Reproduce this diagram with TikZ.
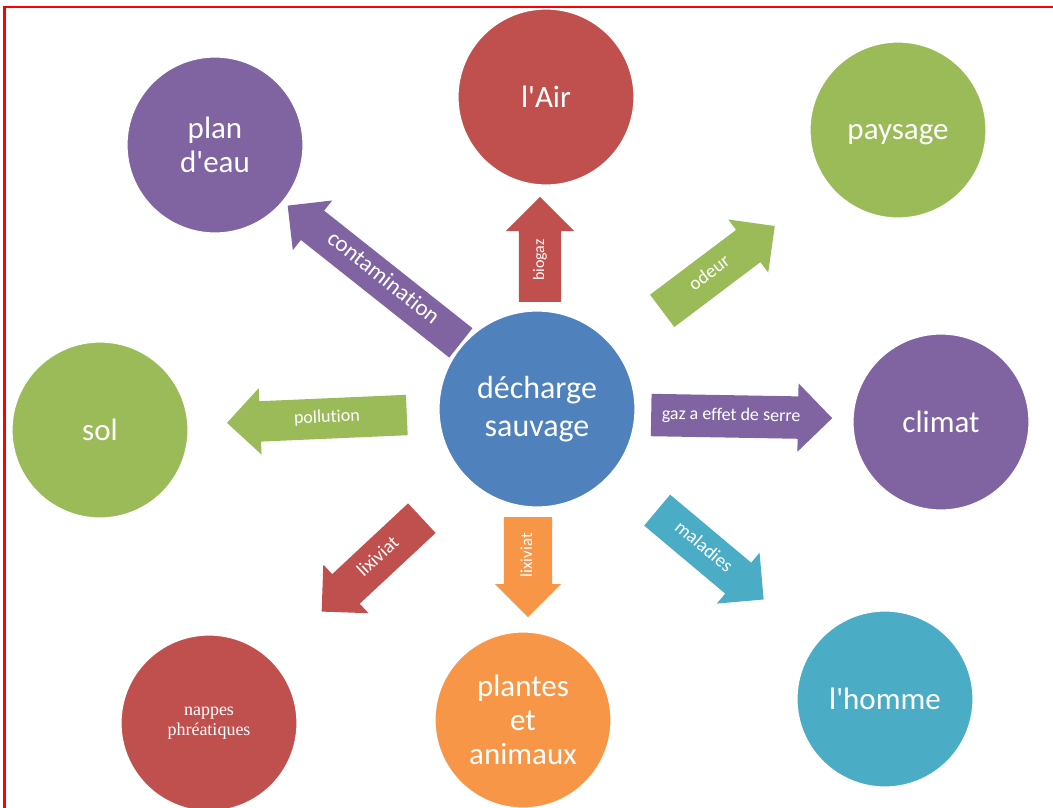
\documentclass[tikz,border=0pt]{standalone}
\usepackage{fontspec}
\setmainfont{Carlito}[Ligatures={TeXOff,NoCommon}]
\newfontfamily\tnr{Liberation Serif}[Ligatures={TeXOff,NoCommon}]
\usetikzlibrary{shapes.arrows}
\definecolor{oblue}{HTML}{4F81BD}
\definecolor{ored}{HTML}{C0504D}
\definecolor{ogreen}{HTML}{9BBB59}
\definecolor{opurple}{HTML}{8064A2}
\definecolor{oaqua}{HTML}{4BACC6}
\definecolor{oorange}{HTML}{F79646}
\tikzset{
  bubble/.style={circle, draw=white, line width=1.2pt, minimum size=176pt, inner sep=0pt,
    text=white, align=center, font=\fontsize{31}{34}\selectfont},
  blockarrow/.style={single arrow, single arrow head extend=13pt, single arrow tip angle=90,
    minimum height=#1, inner xsep=2pt, inner ysep=12pt, text height=12pt, text depth=4pt,
    text=white, font=\fontsize{18}{20}\selectfont, anchor=tail},
}
\begin{document}
\begin{tikzpicture}[x=1pt,y=-1pt]
\useasboundingbox (0,0) rectangle (1053,807);
\fill[white] (0,0) rectangle (1053,807);
\draw[red, line width=2.5pt] (4.5,810) -- (4.5,7) -- (1056,7);

% tails of the block arrows
\coordinate (tCont) at (461,343);
\coordinate (tBio) at (540,302);
\coordinate (tOd) at (662,311);
\coordinate (tGaz) at (651,415);
\coordinate (tPol) at (407,415);
\coordinate (tLixL) at (422,518);
\coordinate (tLixC) at (528,517);
\coordinate (tMal) at (657,510);

% arrows
\node[blockarrow=221pt, fill=opurple, rotate=-38.4, shape border rotate=180, inner ysep=10.5pt,
  font=\fontsize{23}{25}\selectfont] (aCont) at (tCont) {contamination};
\node[blockarrow=105pt, fill=ored, rotate=90, inner ysep=13pt, font=\fontsize{16}{18}\selectfont] (aBio) at (tBio) {biogaz};
\node[blockarrow=141pt, fill=ogreen, rotate=37, font=\fontsize{19}{21}\selectfont] (aOd) at (tOd) {odeur};
\node[blockarrow=181pt, fill=opurple, rotate=-1, inner ysep=13pt] (aGaz) at (tGaz) {gaz a effet de serre};
\node[blockarrow=180pt, fill=ogreen, rotate=2.5, shape border rotate=180] (aPol) at (tPol) {pollution};
\node[blockarrow=137pt, fill=ored, rotate=43, shape border rotate=180, font=\fontsize{19}{21}\selectfont] (aLixL) at (tLixL) {lixiviat};
\node[blockarrow=100pt, fill=oorange, rotate=90, shape border rotate=180, inner ysep=16pt, single arrow head extend=9pt,
  font=\fontsize{17}{19}\selectfont] (aLixC) at (tLixC) {lixiviat};
\node[blockarrow=139pt, fill=oaqua, rotate=-40, font=\fontsize{19}{21}\selectfont] (aMal) at (tMal) {maladies};

% circles
\node[bubble, fill=ored] (air) at (546,97) {l'Air};
\node[bubble, fill=opurple] (plan) at (215,145) {plan\\d'eau};
\node[bubble, fill=ogreen, text height=22pt, text depth=4pt] (pays) at (898,130) {paysage};
\node[bubble, fill=ogreen] (sol) at (100,430) {sol};
\node[bubble, fill=oblue, minimum size=196pt, font=\fontsize{32}{38}\selectfont] (dech) at (537,409) {décharge\\sauvage};
\node[bubble, fill=opurple] (climat) at (941,422) {climat};
\node[bubble, fill=ored, font=\tnr\fontsize{18}{20}\selectfont] (nappes) at (209,723) {nappes\\phréatiques};
\node[bubble, fill=oorange, font=\fontsize{31}{34}\selectfont] (plantes) at (523,720) {plantes\\et\\animaux};
\node[bubble, fill=oaqua] (homme) at (885,699) {l'homme};
\end{tikzpicture}
\end{document}
